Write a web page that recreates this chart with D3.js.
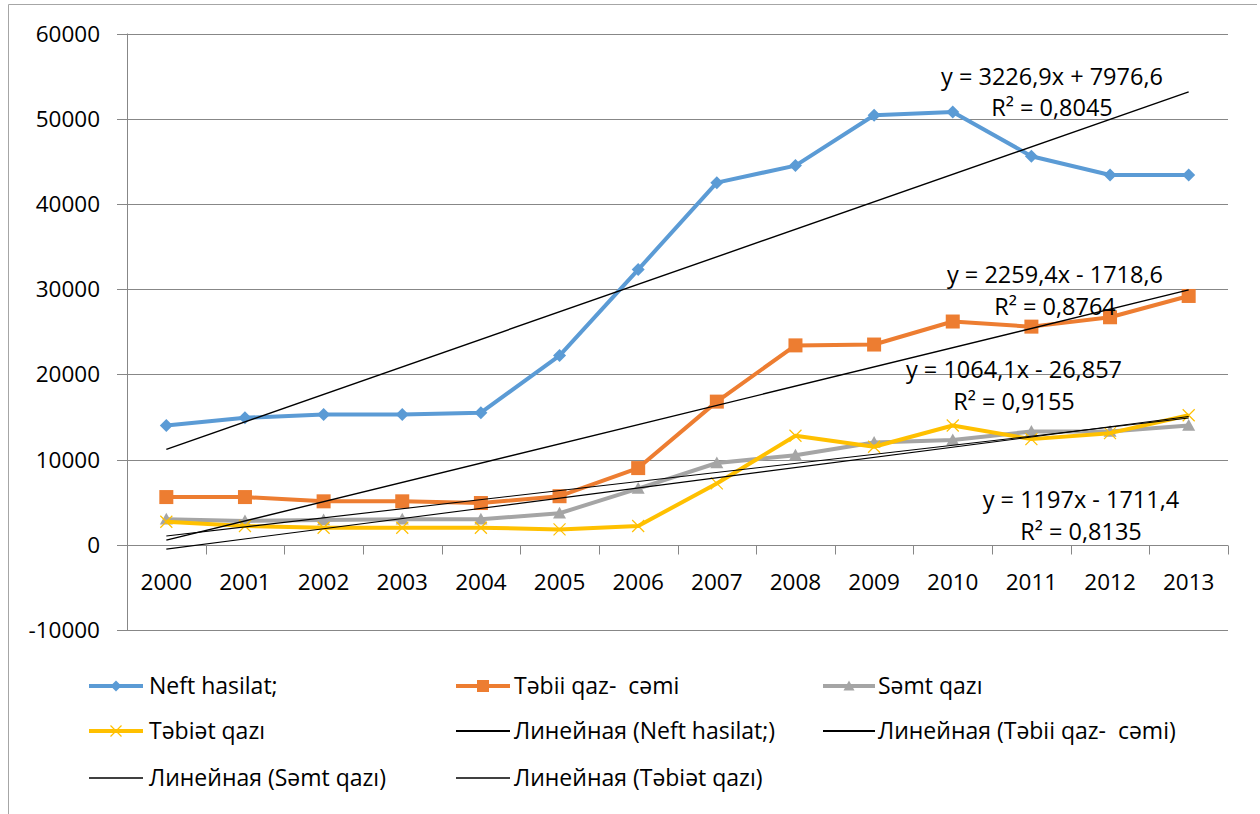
<!DOCTYPE html>
<html>
<head>
<meta charset="utf-8">
<script src="https://cdn.jsdelivr.net/npm/d3@7"></script>
<style>
body { margin: 0; background: #fff; }
text { font-family: "Open Sans", sans-serif; fill: #000; white-space: pre; }
</style>
</head>
<body>
<svg id="chart" width="1260" height="814"></svg>
<script>
// data
const years = ["2000","2001","2002","2003","2004","2005","2006","2007","2008","2009","2010","2011","2012","2013"];
const neft       = [14000,14900,15300,15300,15500,22200,32300,42500,44500,50400,50800,45600,43400,43400];
const tebiiQaz   = [5600,5600,5100,5100,4900,5700,9000,16800,23400,23500,26200,25600,26700,29200];
const semtQazi   = [3000,2800,2900,3000,3000,3700,6600,9600,10500,12000,12300,13300,13300,14000];
const tebietQazi = [2700,2200,2000,2000,2000,1800,2200,7200,12800,11500,14000,12400,13100,15200];

const seriesNames  = ["Neft hasilat;", "Təbii qaz-  cəmi", "Səmt qazı", "Təbiət qazı"];
const seriesColors = ["#5B9BD5", "#ED7D31", "#A5A5A5", "#FFC000"];
const seriesMarks  = ["diamond", "square", "triangle", "cross"];

// linear trend lines (as printed on the chart)
const trendSlopes     = [3226.9, 2259.4, 1064.1, 1197];
const trendIntercepts = [7976.6, -1718.6, -26.857, -1711.4];
const trendEquations  = ["y = 3226,9x + 7976,6", "y = 2259,4x - 1718,6", "y = 1064,1x - 26,857", "y = 1197x - 1711,4"];
const trendR2         = ["R² = 0,8045", "R² = 0,8764", "R² = 0,9155", "R² = 0,8135"];

const yTicks = [-10000, 0, 10000, 20000, 30000, 40000, 50000, 60000];

const allSeries = [neft, tebiiQaz, semtQazi, tebietQazi];

const svg = d3.select('#chart');

// outer chart border
svg.append('path')
   .attr('d', 'M8.5,814 L8.5,4.5 L1257,4.5')
   .attr('fill', 'none')
   .attr('stroke', '#a6a6a6');

const x = d3.scaleBand().domain(years).range([127, 1228]);
const y = d3.scaleLinear().domain([-10000, 60000]).range([630, 33.5]);
const cx = d => x(d) + x.bandwidth() / 2;
const snap = v => Math.round(v) + 0.5;

// gridlines + y ticks
const grid = svg.append('g');
grid.selectAll('line')
    .data(yTicks)
    .enter()
    .append('line')
    .attr('x1', 117).attr('x2', 1228)
    .attr('y1', d => snap(y(d))).attr('y2', d => snap(y(d)))
    .attr('stroke', '#878787').attr('stroke-width', 1);

svg.append('g').selectAll('text')
   .data(yTicks)
   .enter()
   .append('text')
   .attr('x', 100)
   .attr('y', d => y(d))
   .attr('dy', '0.36em')
   .attr('text-anchor', 'end')
   .style('font-size', '22.5px')
   .text(d => String(d));

// y axis line
svg.append('line')
   .attr('x1', snap(x(years[0]))).attr('x2', snap(x(years[0])))
   .attr('y1', y(60000)).attr('y2', y(-10000))
   .attr('stroke', '#878787');

// x axis at zero with ticks on category borders
svg.append('g').selectAll('line')
   .data(years)
   .enter()
   .append('line')
   .attr('x1', d => snap(x(d) + x.bandwidth())).attr('x2', d => snap(x(d) + x.bandwidth()))
   .attr('y1', snap(y(0))).attr('y2', snap(y(0)) + 9)
   .attr('stroke', '#878787');

svg.append('g').selectAll('text')
   .data(years)
   .enter()
   .append('text')
   .attr('x', d => cx(d))
   .attr('y', snap(y(0)) + 36)
   .attr('dy', '0.36em')
   .attr('text-anchor', 'middle')
   .style('font-size', '22.5px')
   .text(d => d);

// marker shapes
function drawMark(g, kind, color, r) {
    if (kind === 'diamond') {
        g.append('path').attr('d', `M0,${-r}L${r},0L0,${r}L${-r},0Z`).attr('fill', color);
    } else if (kind === 'square') {
        g.append('rect').attr('x', -r).attr('y', -r).attr('width', 2 * r).attr('height', 2 * r).attr('fill', color);
    } else if (kind === 'triangle') {
        g.append('path').attr('d', `M0,${-r}L${r},${r * 0.8}L${-r},${r * 0.8}Z`).attr('fill', color);
    } else {
        g.append('path').attr('d', `M${-r},${-r}L${r},${r}M${-r},${r}L${r},${-r}`)
         .attr('stroke', color).attr('stroke-width', 1.2).attr('fill', 'none');
    }
}

const markR = [6.5, 7, 6.5, 6];

const line = d3.line()
    .x((d, i) => cx(years[i]))
    .y(d => y(d));

allSeries.forEach((vals, s) => {
    const g = svg.append('g');
    g.append('path')
     .datum(vals)
     .attr('d', line)
     .attr('fill', 'none')
     .attr('stroke', seriesColors[s])
     .attr('stroke-width', 4)
     .attr('stroke-linejoin', 'round');
    vals.forEach((v, i) => {
        const m = g.append('g').attr('transform', `translate(${cx(years[i])},${y(v)})`);
        drawMark(m, seriesMarks[s], seriesColors[s], markR[s]);
    });
});

// trend lines
const trendWidths = [1.4, 1.4, 1.1, 1.1];
trendSlopes.forEach((k, s) => {
    const b = trendIntercepts[s];
    svg.append('line')
       .attr('x1', cx(years[0])).attr('y1', y(k * 1 + b))
       .attr('x2', cx(years[years.length - 1])).attr('y2', y(k * years.length + b))
       .attr('stroke', '#000')
       .attr('stroke-width', trendWidths[s]);
});

// trend labels
const labelPos = [[1052, 77, 108], [1055, 275, 307], [1014, 370, 402], [1081, 500, 532]];
labelPos.forEach((p, s) => {
    svg.append('text').attr('x', p[0]).attr('y', p[1]).attr('dy', '0.36em')
       .attr('text-anchor', 'middle').style('font-size', '23.5px').text(trendEquations[s]);
    svg.append('text').attr('x', p[0]).attr('y', p[2]).attr('dy', '0.36em')
       .attr('text-anchor', 'middle').style('font-size', '23.5px').text(trendR2[s]);
});

// legend
const legendItems = [];
seriesNames.forEach((n, s) => legendItems.push({ name: n, color: seriesColors[s], mark: seriesMarks[s], width: 4 }));
seriesNames.forEach((n, s) => legendItems.push({ name: 'Линейная (' + n + ')', color: '#000', mark: null, width: s < 2 ? 2 : 1.3 }));

const colLine = [[89, 143], [456, 510], [823, 875]];
const colText = [149, 514, 878];
const rowY = [686, 731, 778];

legendItems.forEach((it, i) => {
    const r = Math.floor(i / 3), c = i % 3;
    const g = svg.append('g');
    g.append('line')
     .attr('x1', colLine[c][0]).attr('x2', colLine[c][1])
     .attr('y1', rowY[r]).attr('y2', rowY[r])
     .attr('stroke', it.color).attr('stroke-width', it.width);
    if (it.mark) {
        const m = g.append('g').attr('transform', `translate(${(colLine[c][0] + colLine[c][1]) / 2},${rowY[r]})`);
        drawMark(m, it.mark, it.color, it.mark === 'square' ? 6 : 5.5);
    }
    g.append('text')
     .attr('x', colText[c]).attr('y', rowY[r]).attr('dy', '0.36em')
     .style('font-size', '23px')
     .text(it.name);
});
</script>
</body>
</html>
